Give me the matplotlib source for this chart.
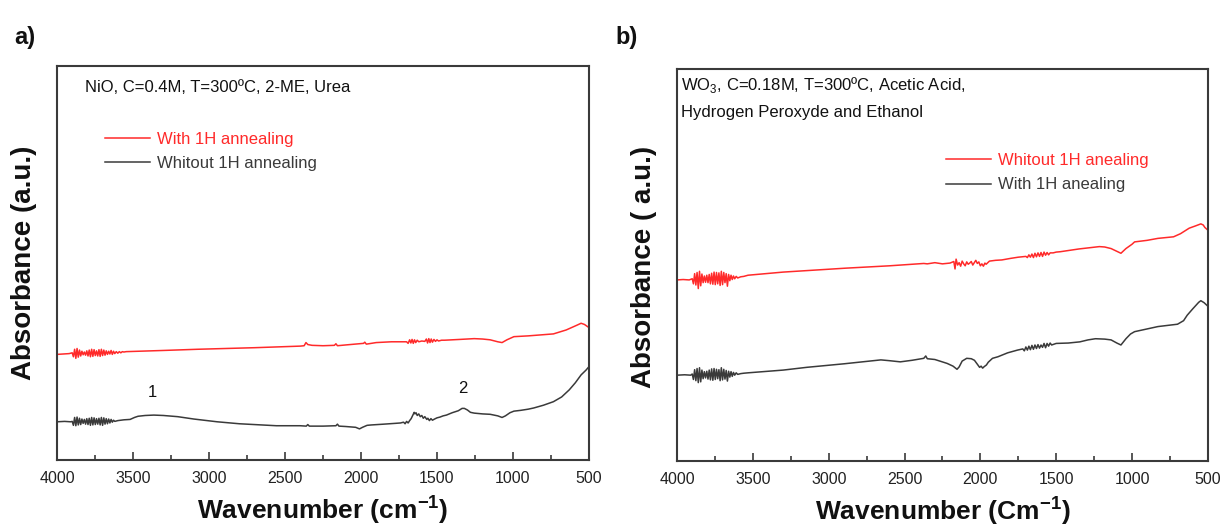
import matplotlib
matplotlib.use("Agg")
import matplotlib.pyplot as plt
from matplotlib.ticker import MultipleLocator

plt.rcParams['font.family'] = ['Liberation Sans', 'DejaVu Sans']
plt.rcParams['mathtext.fontset'] = 'custom'
plt.rcParams['mathtext.rm'] = 'Liberation Sans'
plt.rcParams['mathtext.bf'] = 'Liberation Sans:bold'

RED = '#ff2a2a'
DARK = '#3a3a3a'

# panel a, NiO  -- with 1H annealing
nio_ann_wn = [4000, 3960, 3920, 3900, 3892, 3884, 3876, 3868, 3860, 3852, 3844, 3836, 3828, 3820, 3812,
              3804, 3796, 3788, 3780, 3772, 3764, 3756, 3748, 3740, 3732, 3724, 3716, 3708, 3700, 3692,
              3684, 3676, 3668, 3660, 3652, 3644, 3636, 3628, 3620, 3610, 3600, 3590, 3580, 3570, 3560,
              3545, 3300, 3076, 2700, 2400, 2374, 2362, 2350, 2322, 2250, 2175, 2165, 2155, 2100, 1983,
              1975, 1965, 1900, 1800, 1700, 1690, 1680, 1672, 1664, 1656, 1648, 1640, 1630, 1620, 1600,
              1580, 1570, 1562, 1554, 1546, 1538, 1530, 1520, 1510, 1500, 1490, 1470, 1450, 1350, 1255,
              1200, 1150, 1100, 1072, 1040, 994, 900, 800, 734, 650, 580, 552, 530, 500]
nio_ann_abs = [.268, .269, .270, .272, .262, .281, .258, .283, .261, .279, .264, .276, .267, .274, .266,
               .277, .264, .279, .262, .281, .263, .280, .265, .277, .264, .280, .263, .281, .265, .279,
               .266, .277, .268, .276, .269, .278, .268, .276, .270, .275, .271, .275, .272, .275, .274,
               .275, .278, .281, .285, .289, .290, .298, .293, .291, .290, .291, .295, .290, .292, .296,
               .299, .294, .298, .300, .300, .296, .305, .297, .306, .296, .305, .298, .304, .300, .302,
               .301, .307, .297, .308, .298, .307, .299, .306, .301, .305, .302, .304, .304, .306, .308,
               .307, .305, .300, .298, .305, .313, .315, .318, .320, .330, .342, .347, .344, .336]

# panel a, NiO  -- without annealing
nio_raw_wn = [4000, 3950, 3910, 3900, 3892, 3884, 3876, 3868, 3860, 3852, 3844, 3836, 3828, 3820, 3812,
              3804, 3796, 3788, 3780, 3772, 3764, 3756, 3748, 3740, 3732, 3724, 3716, 3708, 3700, 3692,
              3684, 3676, 3668, 3660, 3652, 3644, 3636, 3628, 3620, 3600, 3580, 3560, 3519, 3490, 3467,
              3420, 3363, 3300, 3206, 3100, 2946, 2800, 2556, 2400, 2360, 2350, 2340, 2250, 2165, 2155,
              2145, 2100, 2035, 2010, 1990, 1960, 1931, 1850, 1776, 1740, 1720, 1710, 1700, 1690, 1680,
              1670, 1660, 1650, 1645, 1638, 1630, 1620, 1610, 1600, 1590, 1580, 1567, 1560, 1550, 1540,
              1530, 1516, 1500, 1480, 1460, 1438, 1400, 1360, 1335, 1320, 1300, 1280, 1255, 1200, 1150,
              1100, 1072, 1050, 1020, 994, 950, 900, 864, 800, 734, 680, 630, 590, 552, 520, 500]
nio_raw_abs = [.097, .098, .097, .098, .088, .108, .087, .109, .089, .106, .090, .104, .093, .103, .091,
               .105, .090, .106, .088, .108, .089, .107, .090, .105, .091, .106, .089, .108, .088, .107,
               .091, .105, .092, .104, .094, .103, .096, .101, .098, .100, .101, .102, .103, .108, .111,
               .113, .114, .113, .110, .104, .097, .092, .087, .087, .086, .090, .086, .086, .087, .091,
               .086, .085, .083, .079, .083, .088, .089, .091, .093, .094, .096, .092, .098, .094, .100,
               .105, .113, .121, .117, .120, .113, .117, .110, .113, .106, .110, .103, .106, .100, .105,
               .101, .104, .107, .109, .112, .114, .120, .125, .131, .131, .127, .121, .119, .117, .116,
               .112, .108, .112, .120, .124, .126, .129, .132, .139, .148, .160, .178, .196, .216, .228, .237]

# panel b, WO3  -- without annealing
wo3_raw_wn = [4000, 3960, 3920, 3900, 3892, 3884, 3876, 3868, 3860, 3852, 3844, 3836, 3828, 3820, 3812,
              3804, 3796, 3788, 3780, 3772, 3764, 3756, 3748, 3740, 3732, 3724, 3716, 3708, 3700, 3692,
              3684, 3676, 3668, 3660, 3652, 3644, 3636, 3628, 3620, 3610, 3600, 3580, 3560, 3532, 3300,
              2888, 2600, 2373, 2350, 2300, 2250, 2200, 2175, 2167, 2160, 2150, 2140, 2130, 2120, 2110,
              2100, 2090, 2080, 2070, 2060, 2050, 2040, 2030, 2020, 2010, 2000, 1990, 1980, 1970, 1962,
              1940, 1900, 1858, 1800, 1750, 1700, 1690, 1680, 1670, 1660, 1650, 1640, 1630, 1620, 1610,
              1600, 1590, 1580, 1570, 1560, 1550, 1540, 1520, 1500, 1472, 1350, 1215, 1180, 1138, 1100,
              1073, 1040, 1000, 983, 900, 829, 726, 680, 623, 580, 546, 530, 520, 500]
wo3_raw_abs = [.462, .463, .462, .465, .452, .478, .449, .481, .440, .484, .447, .477, .455, .472, .456,
               .474, .455, .476, .452, .479, .451, .482, .450, .481, .452, .480, .448, .484, .450, .481,
               .455, .478, .446, .476, .460, .474, .463, .472, .465, .471, .467, .470, .471, .474, .482,
               .492, .498, .504, .503, .506, .503, .505, .509, .490, .515, .500, .506, .497, .510, .503,
               .498, .508, .502, .505, .509, .500, .506, .512, .504, .508, .498, .503, .497, .505, .502,
               .510, .512, .513, .517, .520, .522, .519, .526, .520, .528, .519, .530, .521, .531, .522,
               .532, .522, .533, .525, .532, .526, .531, .531, .533, .534, .541, .547, .546, .542, .535,
               .530, .542, .553, .559, .563, .568, .572, .580, .594, .600, .605, .602, .596, .589]

# panel b, WO3  -- with 1H annealing
wo3_ann_wn = [4000, 3950, 3910, 3900, 3892, 3884, 3876, 3868, 3860, 3852, 3844, 3836, 3828, 3820, 3812,
              3804, 3796, 3788, 3780, 3772, 3764, 3756, 3748, 3740, 3732, 3724, 3716, 3708, 3700, 3692,
              3684, 3676, 3668, 3660, 3652, 3644, 3636, 3628, 3620, 3610, 3600, 3580, 3560, 3532, 3300,
              3145, 2900, 2656, 2600, 2528, 2450, 2373, 2360, 2350, 2300, 2219, 2180, 2154, 2140, 2120,
              2090, 2060, 2039, 2020, 2005, 1995, 1985, 1974, 1960, 1948, 1920, 1884, 1820, 1755, 1720,
              1710, 1700, 1690, 1680, 1670, 1660, 1650, 1640, 1630, 1620, 1610, 1600, 1590, 1580, 1570,
              1560, 1550, 1540, 1530, 1500, 1420, 1344, 1290, 1241, 1180, 1138, 1100, 1073, 1040, 1010,
              983, 900, 829, 700, 660, 636, 600, 560, 546, 525, 500]
wo3_ann_abs = [.219, .220, .219, .222, .208, .233, .205, .236, .200, .238, .202, .232, .210, .228, .212,
               .229, .209, .232, .207, .235, .206, .236, .208, .234, .210, .233, .205, .238, .207, .234,
               .209, .231, .204, .229, .214, .228, .216, .226, .219, .225, .221, .223, .224, .225, .232,
               .239, .248, .258, .256, .253, .257, .262, .268, .261, .259, .249, .242, .234, .240, .255,
               .262, .261, .257, .247, .239, .242, .237, .241, .245, .252, .262, .266, .276, .283, .286,
               .281, .291, .283, .293, .284, .295, .285, .296, .287, .297, .288, .296, .290, .300, .289,
               .300, .293, .301, .296, .300, .301, .304, .309, .312, .311, .309, .301, .296, .312, .324,
               .330, .337, .343, .349, .358, .372, .388, .405, .409, .404, .395]

fig = plt.figure(figsize=(12.23, 5.29), dpi=100)
ax_a = fig.add_axes([0.0466, 0.1304, 0.435, 0.745])
ax_b = fig.add_axes([0.5536, 0.1285, 0.434, 0.741])


def style_axis(ax, xlabel, ylabel):
    ax.set_xlim(4000, 500)
    ax.set_ylim(0, 1)
    ax.xaxis.set_major_locator(MultipleLocator(500))
    ax.xaxis.set_minor_locator(MultipleLocator(250))
    ax.tick_params(axis='x', which='both', direction='in', top=False, labelsize=11.5,
                   colors=DARK, labelcolor='#222222', pad=8)
    ax.tick_params(axis='x', which='major', length=6, width=1.2)
    ax.tick_params(axis='x', which='minor', length=3.5, width=1.2)
    ax.set_yticks([])
    for sp in ax.spines.values():
        sp.set_linewidth(1.5)
        sp.set_color(DARK)
    ax.set_xlabel(xlabel, fontsize=19, fontweight='bold', color='#111111')
    ax.xaxis.set_label_coords(0.5, -0.085)
    ax.set_ylabel(ylabel, fontsize=20, fontweight='bold', color='#111111')


# ---- a) NiO
ax_a.plot(nio_ann_wn, nio_ann_abs, color=RED, lw=1.1, label='With 1H annealing')
ax_a.plot(nio_raw_wn, nio_raw_abs, color=DARK, lw=1.1, label='Whitout 1H annealing')
style_axis(ax_a, 'Wavenumber (cm$^{\\mathbf{-1}}$)', 'Absorbance (a.u.)')
ax_a.yaxis.set_label_coords(-0.038, 0.5)
ax_a.text(0.053, 0.944, 'NiO, C=0.4M, T=300ºC, 2-ME, Urea', transform=ax_a.transAxes,
          fontsize=12, va='center', ha='left', color='#111111')
ax_a.legend(loc='upper left', bbox_to_anchor=(0.09, 0.832), frameon=False, fontsize=12,
            handlelength=2.7, handletextpad=0.4, labelspacing=0.55, borderpad=0,
            borderaxespad=0, labelcolor='linecolor')
ax_a.text(3375, 0.152, '1', fontsize=12, ha='center', va='bottom', color='#111111')
ax_a.text(1333, 0.162, '2', fontsize=12, ha='center', va='bottom', color='#111111')
fig.text(0.012, 0.917, 'a)', fontsize=17, fontweight='bold', color='#111111')

# ---- b) WO3
ax_b.plot(wo3_raw_wn, wo3_raw_abs, color=RED, lw=1.1, label='Whitout 1H anealing')
ax_b.plot(wo3_ann_wn, wo3_ann_abs, color=DARK, lw=1.1, label='With 1H anealing')
style_axis(ax_b, 'Wavenumber (Cm$^{\\mathbf{-1}}$)', 'Absorbance ( a.u.)')
ax_b.yaxis.set_label_coords(-0.038, 0.495)
ax_b.text(0.008, 0.959, 'WO$_3$, C=0.18M, T=300ºC, Acetic Acid,', transform=ax_b.transAxes,
          fontsize=12, va='center', ha='left', color='#111111')
ax_b.text(0.008, 0.888, 'Hydrogen Peroxyde and Ethanol', transform=ax_b.transAxes,
          fontsize=12, va='center', ha='left', color='#111111')
ax_b.legend(loc='upper left', bbox_to_anchor=(0.507, 0.785), frameon=False, fontsize=12,
            handlelength=2.7, handletextpad=0.4, labelspacing=0.55, borderpad=0,
            borderaxespad=0, labelcolor='linecolor')
fig.text(0.503, 0.917, 'b)', fontsize=17, fontweight='bold', color='#111111')

fig.savefig('out.png', dpi=100)
